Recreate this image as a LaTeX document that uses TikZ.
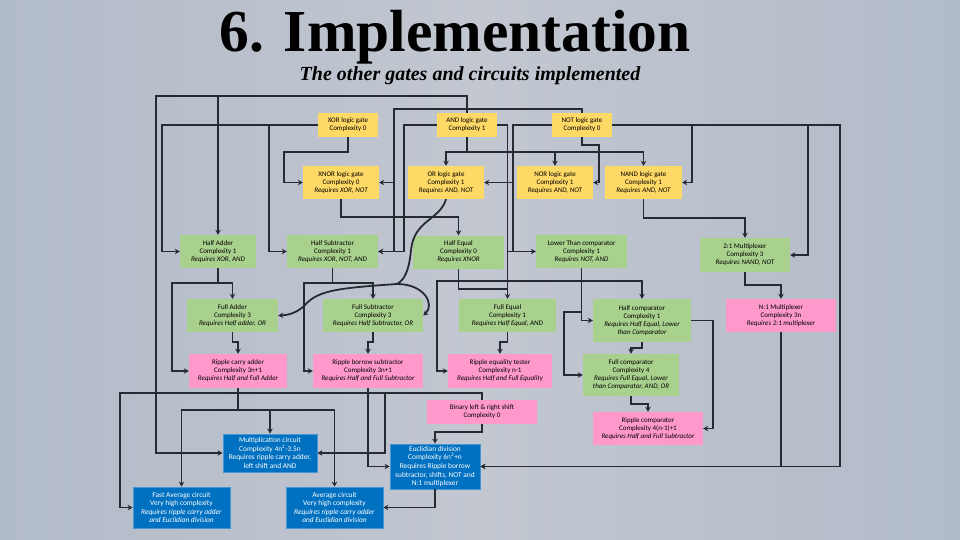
\documentclass[tikz,border=0pt]{standalone}
\usepackage{fontspec}
\setmainfont{Liberation Serif}
\newfontfamily\calfont{Carlito}
\usetikzlibrary{arrows.meta}
\definecolor{bgl}{RGB}{178,187,201}
\definecolor{bgm}{RGB}{194,199,208}
\definecolor{yel}{RGB}{255,217,102}
\definecolor{grn}{RGB}{169,209,142}
\definecolor{pnk}{RGB}{255,153,204}
\definecolor{blu}{RGB}{0,112,192}
\definecolor{bluedge}{RGB}{70,150,215}
\definecolor{ln}{RGB}{38,42,50}
\newcommand\reqline[1]{{\itshape #1}}
\begin{document}
\begin{tikzpicture}[x=1pt,y=-1pt,
  box/.style={inner sep=0pt, align=center, font=\calfont\fontsize{7}{8}\selectfont, text=black},
  sz/.style 2 args={minimum width=#1pt, minimum height=#2pt},
  ybox/.style={box, fill=yel},
  gbox/.style={box, fill=grn},
  pbox/.style={box, fill=pnk},
  bbox/.style={box, fill=blu, draw=bluedge, line width=0.8pt, text=white, font=\calfont\fontsize{7.4}{8.6}\selectfont},
  wire/.style={draw=ln, line width=1.8pt},
  conn/.style={wire, -{Stealth[length=5pt,width=5.5pt]}}]
\useasboundingbox (0,0) rectangle (960,540);
\shade[left color=bgl, right color=bgl, middle color=bgm] (0,0) rectangle (960,540);

\node[font=\bfseries\fontsize{59.5}{60}\selectfont, anchor=base] (title) at (455,52) {6. Implementation};
\node[font=\bfseries\itshape\fontsize{20}{22}\selectfont, anchor=base] (subtitle) at (470,81) {The other gates and circuits implemented};

% gates
\node[ybox, sz={60}{24}] (xor) at (348,125) {XOR logic gate\\Complexity 0};
\node[ybox, sz={60}{24}] (and) at (467,125) {AND logic gate\\Complexity 1};
\node[ybox, sz={60}{24}] (not) at (582,125) {NOT logic gate\\Complexity 0};
\node[ybox, sz={76}{33}] (xnor) at (341,182.5) {XNOR logic gate\\Complexity 0\\\reqline{Requires XOR, NOT}};
\node[ybox, sz={76}{33}] (or) at (446,182.5) {OR logic gate\\Complexity 1\\\reqline{Requires AND, NOT}};
\node[ybox, sz={76}{33}] (nor) at (555,182.5) {NOR logic gate\\Complexity 1\\\reqline{Requires AND, NOT}};
\node[ybox, sz={77}{33}] (nand) at (643.5,182.5) {NAND logic gate\\Complexity 1\\\reqline{Requires AND, NOT}};

% green
\node[gbox, sz={76}{33}] (hadd) at (218,251.5) {Half Adder\\Complexity 1\\\reqline{Requires XOR, AND}};
\node[gbox, sz={91}{33}] (hsub) at (332.5,251.5) {Half Subtractor\\Complexity 1\\\reqline{Requires XOR, NOT, AND}};
\node[gbox, sz={91}{33}] (heq) at (458.5,252) {Half Equal\\Complexity 0\\\reqline{Requires XNOR}};
\node[gbox, sz={91}{33}] (lt) at (581.5,251.5) {Lower Than comparator\\Complexity 1\\\reqline{Requires NOT, AND}};
\node[gbox, sz={90}{34}] (mux2) at (745,255) {2:1 Multiplexer\\Complexity 3\\\reqline{Requires NAND, NOT}};
\node[gbox, sz={91}{33}] (fadd) at (232.5,315.5) {Full Adder\\Complexity 3\\\reqline{Requires Half adder, OR}};
\node[gbox, sz={100}{33}] (fsub) at (373,315.5) {Full Subtractor\\Complexity 3\\\reqline{Requires Half Subtractor, OR}};
\node[gbox, sz={97}{33}] (feq) at (507.5,315.5) {Full Equal\\Complexity 1\\\reqline{Requires Half Equal, AND}};
\node[gbox, sz={98}{43}] (hcmp) at (642,320.5) {Half comparator\\Complexity 1\\\reqline{Requires Half Equal, Lower}\\\reqline{than Comparator}};
\node[gbox, sz={96}{42}] (fcmp) at (631,375) {Full comparator\\Complexity 4\\\reqline{Requires Full Equal, Lower}\\\reqline{than Comparator, AND, OR}};

% pink
\node[pbox, sz={110}{33}] (muxn) at (781,315.5) {N:1 Multiplexer\\Complexity 3n\\\reqline{Requires 2:1 multiplexer}};
\node[pbox, sz={98}{34}] (rca) at (238,371) {Ripple carry adder\\Complexity 3n+1\\\reqline{Requires Half and Full Adder}};
\node[pbox, sz={110}{34}] (rbs) at (368,371) {Ripple borrow subtractor\\Complexity 3n+1\\\reqline{Requires Half and Full Subtractor}};
\node[pbox, sz={104}{34}] (ret) at (500,371) {Ripple equality tester\\Complexity n-1\\\reqline{Requires Half and Full Equality}};
\node[pbox, sz={110}{24}] (shift) at (482,412) {Binary left \& right shift\\Complexity 0};
\node[pbox, sz={110}{33}] (rcmp) at (648,428.5) {Ripple comparator\\Complexity 4(n-1)+1\\\reqline{Requires Half and Full Subtractor}};

% blue
\node[bbox, sz={94}{38}] (mult) at (270,453) {Multiplication circuit\\Complexity 4n\textsuperscript{2}-3.5n\\Requires ripple carry adder,\\left shift and AND};
\node[bbox, sz={90}{45}] (ediv) at (435,466.5) {Euclidian division\\Complexity 6n\textsuperscript{2}+n\\Requires Ripple borrow\\subtractor, shifts, NOT and\\N:1 multiplexer};
\node[bbox, sz={97}{41}] (favg) at (181.5,507.5) {Fast Average circuit\\Very high complexity\\\reqline{Requires ripple carry adder}\\\reqline{and Euclidian division}};
\node[bbox, sz={97}{41}] (avg) at (334.5,507.5) {Average circuit\\Very high complexity\\\reqline{Requires ripple carry adder}\\\reqline{and Euclidian division}};

% AND top
\draw[conn] (and.north) |- (156,96) |- (mult.west);
\draw[conn] (218,96) -- (hadd.north);
% XOR left / bottom
\draw[conn] (xor.west) -- (162,125) |- (hadd.west);
\draw[conn] (269,125) |- (hsub.west);
\draw[conn] (xor.south) |- (284,152) |- (xnor.west);
% NOT top
\draw[conn] (not.north) |- (394,109) |- (hsub.east);
\draw[conn] (394,182.5) -- (xnor.east);
% AND left
\draw[conn] (and.west) -| (404,251.5) -- (hsub.east);
% AND bottom
\draw[conn] (and.south) |- (446,152) -- (or.north);
\draw[conn] (467,152) -| (nor.north);
\draw[conn] (555,152) -| (nand.north);
% NOT bottom
\draw[conn] (not.south) |- (599,145) |- (nor.east);
% NOT right
\draw[conn] (not.east) -| (840,466.5) -- (ediv.east);
\draw[conn] (692,125) |- (nand.east);
\draw[conn] (808,125) |- (mux2.east);
% NOT left
\draw[conn] (not.west) -| (513,251.5) -- (lt.west);
\draw[conn] (513,182.5) -- (or.east);
% AND right
\draw[conn] (and.east) -| (feq.north);
\draw[wire] (507.5,251.5) -- (513,251.5);
% XNOR, NAND bottom
\draw[conn] (xnor.south) |- (400,217) -| (heq.north);
\draw[conn] (nand.south) |- (700,218) -| (mux2.north);
% OR curve
\draw[wire] (or.south) .. controls (440,220) and (414,220) .. (411,250) .. controls (409,272) and (404,280) .. (397,284) coordinate (cj);
\draw[conn] (cj) .. controls (340,288) and (318,290) .. (305,305) .. controls (298,312) and (290,315) .. (fadd.east);
\draw[conn] (cj) .. controls (425,284) and (435,305) .. (fsub.east);
% adders
\draw[conn] (hadd.south) |- (232.5,283) -- (fadd.north);
\draw[conn] (218,283) -- (172,283) |- (rca.west);
\draw[conn] (fadd.south) |- (238,342) -- (rca.north);
% subtractors
\draw[conn] (hsub.south) |- (373,283) -- (fsub.north);
\draw[conn] (332.5,283) -- (304,283) |- (rbs.west);
\draw[conn] (fsub.south) |- (368,342) -- (rbs.north);
% equality
\draw[conn] (heq.south) |- (437,281) |- (ret.west);
\draw[conn] (458.5,281) -| (hcmp.north);
\draw[wire] (458.5,281) |- (507.5,289);
\draw[conn] (feq.south) |- (500,342) -- (ret.north);
% lower than / comparators
\draw[conn] (lt.south) |- (hcmp.west);
\draw[conn] (581.5,312) -- (564,312) |- (fcmp.west);
\draw[conn] (hcmp.south) |- (631,348) -- (fcmp.north);
\draw[conn] (hcmp.east) -| (713,428.5) -- (rcmp.east);
\draw[conn] (fcmp.south) |- (648,404) -- (rcmp.north);
% multiplexers
\draw[conn] (mux2.south) |- (781,285) -- (muxn.north);
\draw[conn] (muxn.south) |- (ediv.east);
% ripple carry adder
\draw[conn] (rca.south) |- (270,410) -- (mult.north);
\draw[conn] (238,410) -| (favg.north);
\draw[conn] (238,410) -| (avg.north);
% shift
\draw[conn] (shift.north) |- (120,393) |- (favg.west);
\draw[conn] (385,393) |- (mult.east);
\draw[conn] (shift.south) |- (435,432) -- (ediv.north);
% division
\draw[conn] (rbs.south) |- (ediv.west);
\draw[conn] (ediv.south) |- (avg.east);
\end{tikzpicture}
\end{document}
